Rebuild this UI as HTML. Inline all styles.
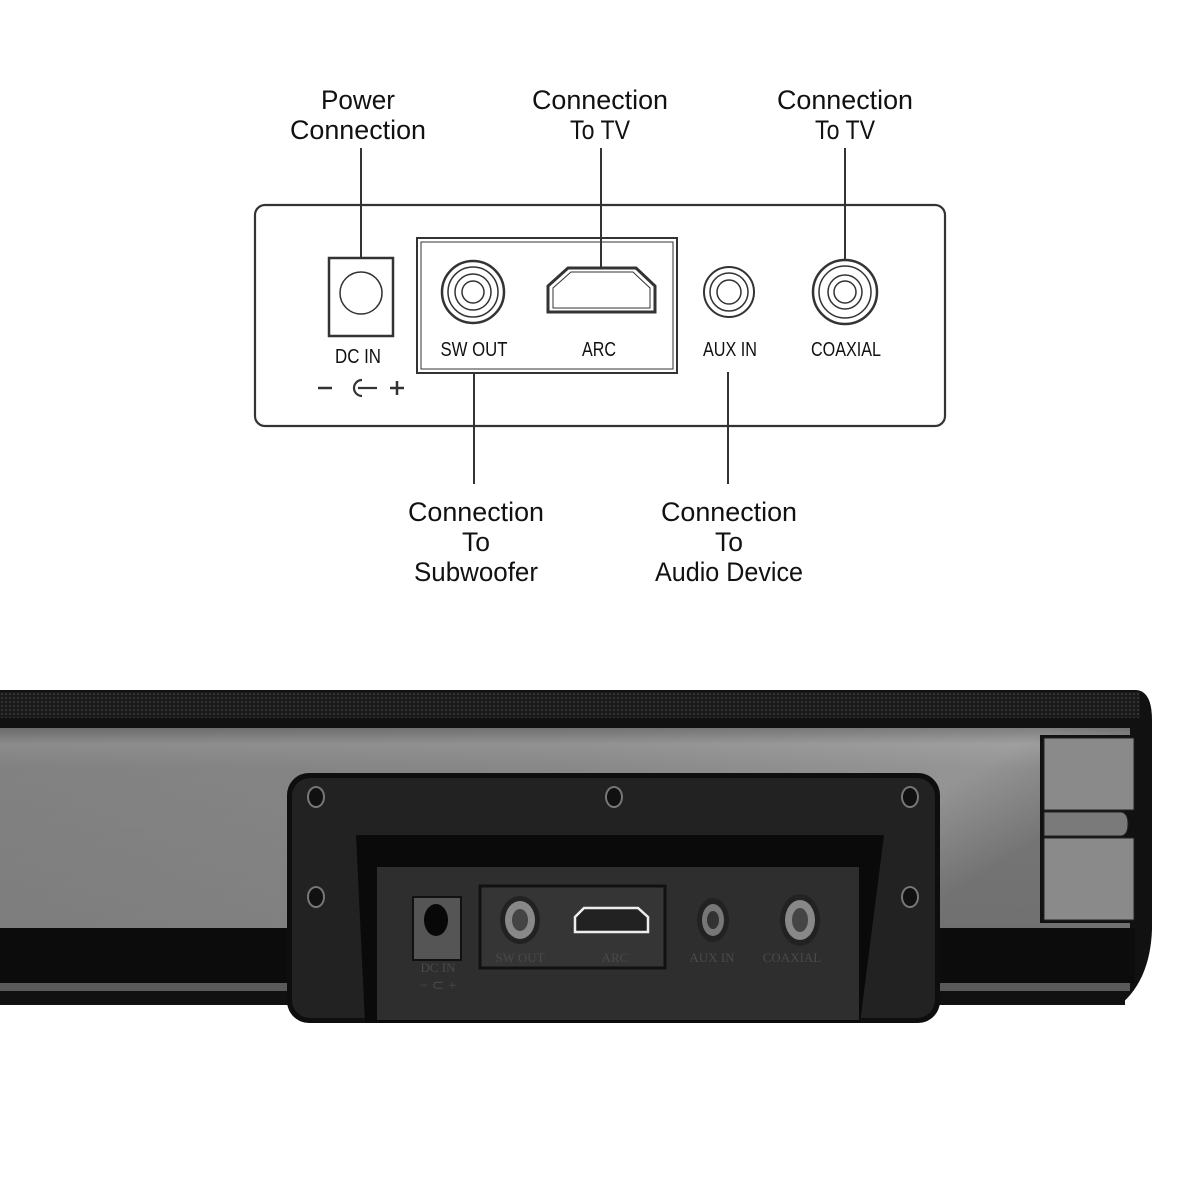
<!DOCTYPE html>
<html><head><meta charset="utf-8"><style>html,body{margin:0;padding:0;background:#fff}svg{display:block}</style></head>
<body>
<svg width="1200" height="1200" viewBox="0 0 1200 1200" xmlns="http://www.w3.org/2000/svg">
<defs>
<linearGradient id="gl" x1="0" y1="0" x2="1" y2="0.3">
<stop offset="0" stop-color="#7c7c7c"/><stop offset="0.5" stop-color="#8a8a8a"/><stop offset="0.85" stop-color="#a4a4a4"/><stop offset="1" stop-color="#6a6a6a"/>
</linearGradient>
<linearGradient id="gv" x1="0" y1="0" x2="0" y2="1">
<stop offset="0" stop-color="#5a5a5a"/><stop offset="0.08" stop-color="#9a9a9a"/><stop offset="0.2" stop-color="#858585"/><stop offset="1" stop-color="#777"/>
</linearGradient>
<pattern id="grille" width="4" height="4" patternUnits="userSpaceOnUse"><rect width="4" height="4" fill="#1a1a1a"/><circle cx="2" cy="2" r="1" fill="#3a3a3a"/></pattern>
</defs>
<g font-family="'Liberation Sans Narrow','Liberation Sans',sans-serif" fill="#111" text-anchor="middle">
<text x="358" y="109" font-size="27" textLength="74" lengthAdjust="spacingAndGlyphs">Power</text>
<text x="358" y="139" font-size="27" textLength="136" lengthAdjust="spacingAndGlyphs">Connection</text>
<text x="600" y="109" font-size="27" textLength="136" lengthAdjust="spacingAndGlyphs">Connection</text>
<text x="600" y="139" font-size="27" textLength="60" lengthAdjust="spacingAndGlyphs">To TV</text>
<text x="845" y="109" font-size="27" textLength="136" lengthAdjust="spacingAndGlyphs">Connection</text>
<text x="845" y="139" font-size="27" textLength="60" lengthAdjust="spacingAndGlyphs">To TV</text>
<text x="476" y="521" font-size="27" textLength="136" lengthAdjust="spacingAndGlyphs">Connection</text>
<text x="476" y="551" font-size="27" textLength="28" lengthAdjust="spacingAndGlyphs">To</text>
<text x="476" y="581" font-size="27" textLength="124" lengthAdjust="spacingAndGlyphs">Subwoofer</text>
<text x="729" y="521" font-size="27" textLength="136" lengthAdjust="spacingAndGlyphs">Connection</text>
<text x="729" y="551" font-size="27" textLength="28" lengthAdjust="spacingAndGlyphs">To</text>
<text x="729" y="581" font-size="27" textLength="148" lengthAdjust="spacingAndGlyphs">Audio Device</text>
</g>
<g stroke="#333" stroke-width="2" fill="none">
<line x1="361" y1="148" x2="361" y2="258"/>
<line x1="601" y1="148" x2="601" y2="268"/>
<line x1="845" y1="148" x2="845" y2="261"/>
<line x1="474" y1="373" x2="474" y2="484"/>
<line x1="728" y1="372" x2="728" y2="484"/>
<rect x="255" y="205" width="690" height="221" rx="10" stroke-width="2.2"/>
<rect x="329" y="258" width="64" height="78" stroke-width="2.5"/>
<circle cx="361" cy="293" r="21" stroke-width="1.5"/>
<rect x="417" y="238" width="260" height="135" stroke-width="2"/>
<rect x="421" y="242" width="252" height="127" stroke-width="1"/>
<circle cx="473" cy="292" r="31" stroke-width="2.5"/>
<circle cx="473" cy="292" r="25" stroke-width="1.5"/>
<circle cx="473" cy="292" r="18" stroke-width="1.5"/>
<circle cx="473" cy="292" r="11" stroke-width="1.5"/>
<path d="M568 268 H636 L655 286 V312 H548 V286 Z" stroke-width="3"/>
<path d="M571 272 H633 L650 288 V308 H553 V288 Z" stroke-width="1"/>
<circle cx="729" cy="292" r="25" stroke-width="2"/>
<circle cx="729" cy="292" r="19" stroke-width="1.5"/>
<circle cx="729" cy="292" r="12" stroke-width="1.5"/>
<circle cx="845" cy="292" r="32" stroke-width="2.5"/>
<circle cx="845" cy="292" r="26" stroke-width="1.5"/>
<circle cx="845" cy="292" r="17" stroke-width="1.5"/>
<circle cx="845" cy="292" r="11" stroke-width="1.5"/>
<path d="M362 380 A8 8 0 1 0 362 396" stroke-width="2.2"/>
<line x1="358" y1="388" x2="377" y2="388" stroke-width="2.2"/>
<line x1="318" y1="388" x2="332" y2="388" stroke-width="2.5"/>
<line x1="390" y1="388" x2="404" y2="388" stroke-width="2.5"/>
<line x1="397" y1="381" x2="397" y2="395" stroke-width="2.5"/>
</g>
<g font-family="'Liberation Sans Narrow','Liberation Sans',sans-serif" fill="#111" text-anchor="middle" font-size="20">
<text x="358" y="363" textLength="46" lengthAdjust="spacingAndGlyphs">DC IN</text>
<text x="474" y="356" textLength="67" lengthAdjust="spacingAndGlyphs">SW OUT</text>
<text x="599" y="356" textLength="34" lengthAdjust="spacingAndGlyphs">ARC</text>
<text x="730" y="356" textLength="54" lengthAdjust="spacingAndGlyphs">AUX IN</text>
<text x="846" y="356" textLength="70" lengthAdjust="spacingAndGlyphs">COAXIAL</text>
</g>

<!-- soundbar -->
<path d="M0 690 H1135 Q1152 690 1152 720 V930 Q1150 980 1120 1005 H0 Z" fill="#111"/>
<rect x="0" y="692" width="1140" height="26" fill="url(#grille)"/>
<path d="M0 728 H1130 V928 H0 Z" fill="url(#gl)"/>
<rect x="0" y="728" width="1130" height="200" fill="url(#gv)" opacity="0.5"/>
<rect x="0" y="928" width="1135" height="55" fill="#0c0c0c"/>
<rect x="0" y="983" width="1130" height="8" fill="#5a5a5a"/>
<rect x="0" y="991" width="1125" height="14" fill="#111"/>
<rect x="1040" y="735" width="96" height="188" fill="#111"/>
<rect x="1044" y="738" width="90" height="72" fill="#8a8a8a" stroke="#222"/>
<rect x="1044" y="838" width="90" height="82" fill="#8a8a8a" stroke="#222"/>
<path d="M1044 812 H1120 Q1128 812 1128 824 Q1128 836 1120 836 H1044 Z" fill="#7a7a7a" stroke="#222"/>
<!-- bracket -->
<rect x="287" y="773" width="653" height="250" rx="22" fill="#0e0e0e"/>
<rect x="292" y="778" width="643" height="240" rx="18" fill="#222"/>
<g fill="#111" stroke="#777" stroke-width="2">
<ellipse cx="316" cy="797" rx="8" ry="10"/><ellipse cx="614" cy="797" rx="8" ry="10"/><ellipse cx="910" cy="797" rx="8" ry="10"/>
<ellipse cx="316" cy="897" rx="8" ry="10"/><ellipse cx="910" cy="897" rx="8" ry="10"/>
</g>
<path d="M356 835 H884 L860 1023 H365 Z" fill="#0a0a0a"/>
<rect x="377" y="867" width="482" height="153" fill="#2e2e2e"/>
<rect x="413" y="897" width="48" height="63" fill="#555" stroke="#111" stroke-width="2"/>
<ellipse cx="436" cy="920" rx="12" ry="16" fill="#080808"/>
<rect x="480" y="886" width="185" height="82" fill="#353535" stroke="#111" stroke-width="3"/>
<ellipse cx="520" cy="920" rx="20" ry="24" fill="#222"/><ellipse cx="520" cy="920" rx="15" ry="19" fill="#888"/><ellipse cx="520" cy="920" rx="8" ry="11" fill="#444"/>
<path d="M584 908 H638 L648 917 V932 H575 V917 Z" fill="#222" stroke="#eee" stroke-width="2.5"/>
<ellipse cx="713" cy="920" rx="16" ry="22" fill="#222"/><ellipse cx="713" cy="920" rx="11" ry="16" fill="#777"/><ellipse cx="713" cy="920" rx="6" ry="9" fill="#333"/>
<ellipse cx="800" cy="920" rx="20" ry="26" fill="#222"/><ellipse cx="800" cy="920" rx="15" ry="20" fill="#888"/><ellipse cx="800" cy="920" rx="8" ry="12" fill="#444"/>
<g font-family="'Liberation Serif',serif" fill="#4a4a4a" font-size="13" text-anchor="middle">
<text x="438" y="972">DC IN</text><text x="520" y="962">SW OUT</text><text x="615" y="962">ARC</text><text x="712" y="962">AUX IN</text><text x="792" y="962">COAXIAL</text>
<text x="438" y="990" font-size="15">− ⊂ +</text>
</g>
</svg>
</body></html>
